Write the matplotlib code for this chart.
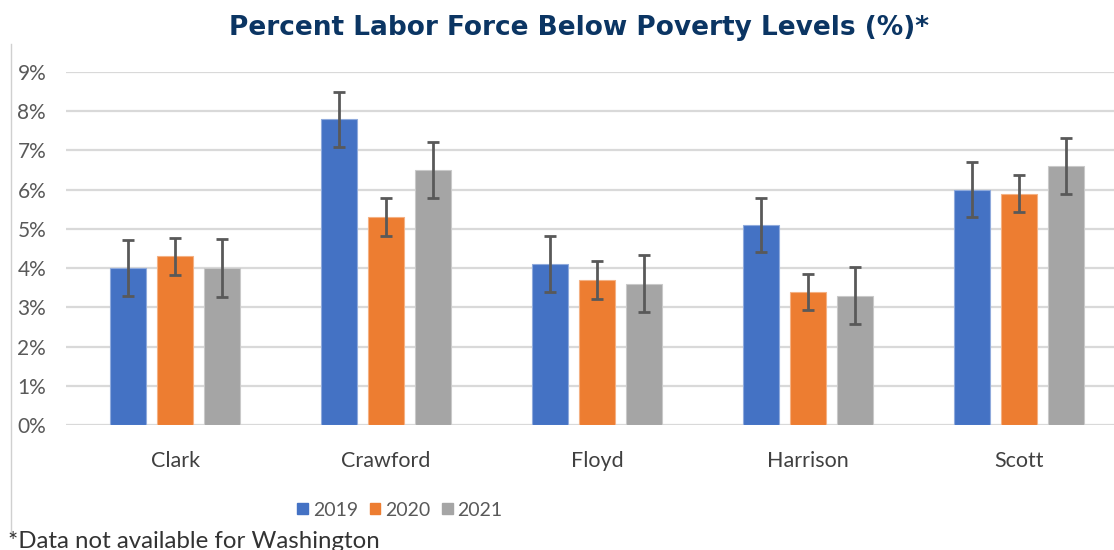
import matplotlib.pyplot as plt
import numpy as np
from matplotlib.lines import Line2D

counties = ['Clark', 'Crawford', 'Floyd', 'Harrison', 'Scott']
years = ['2019', '2020', '2021']

pct_2019 = [4.0, 7.8, 4.1, 5.1, 6.0]
pct_2020 = [4.3, 5.3, 3.7, 3.4, 5.9]
pct_2021 = [4.0, 6.5, 3.6, 3.3, 6.6]

err_2019 = [0.71, 0.70, 0.71, 0.70, 0.70]
err_2020 = [0.48, 0.48, 0.48, 0.46, 0.48]
err_2021 = [0.73, 0.72, 0.73, 0.73, 0.72]

colors = ['#4472C4', '#ED7D31', '#A5A5A5']
edges = ['#8FAADC', '#F4B183', '#C9C9C9']

plt.rcParams['font.family'] = ['Lato', 'DejaVu Sans']

fig = plt.figure(figsize=(11.14, 5.5), dpi=100)
ax = fig.add_axes([66 / 1114, 1 - 425 / 550, 1 - 66 / 1114, (425 - 72) / 550])

x = np.arange(len(counties))
step = 0.223
width = 0.172
series = [(pct_2019, err_2019), (pct_2020, err_2020), (pct_2021, err_2021)]
for i, (vals, errs) in enumerate(series):
	pos = x + (i - 1) * step
	ax.bar(pos, vals, width, color=colors[i], edgecolor=edges[i], linewidth=0.8,
		label=years[i], zorder=2)
	ax.errorbar(pos, vals, yerr=errs, fmt='none', ecolor='#595959',
		elinewidth=2, capsize=4.5, capthick=2, zorder=3)

ax.set_xlim(-0.517, 4.45)
ax.set_ylim(0, 9)
ax.set_yticks(range(0, 10))
ax.set_yticklabels([f'{v}%' for v in range(0, 10)])
ax.yaxis.grid(True, color='#D9D9D9', linewidth=1.6, zorder=0)
ax.set_axisbelow(True)
for s in ax.spines.values():
	s.set_visible(False)
ax.tick_params(axis='y', length=0, pad=35, labelsize=15, labelcolor='#595959')
ax.tick_params(axis='x', length=0, pad=19, labelsize=15.5, labelcolor='#404040')
ax.set_xticks(x)
ax.set_xticklabels(counties)
for lbl in ax.get_yticklabels():
	lbl.set_horizontalalignment('left')

fig.text(579 / 1114, 1 - 28 / 550, 'Percent Labor Force Below Poverty Levels (%)*',
	ha='center', va='center', fontsize=19, fontweight='bold', color='#0B3563',
	family='DejaVu Sans')

handles = [plt.Rectangle((0, 0), 1, 1, color=c) for c in colors]
fig.legend(handles, years, loc='center', bbox_to_anchor=(400 / 1114, 1 - 510 / 550),
	ncol=3, frameon=False, fontsize=14, handlelength=0.55, handleheight=0.55,
	handletextpad=0.25, columnspacing=0.6, labelcolor='#595959')

fig.text(8 / 1114, 1 - 541 / 550, '*Data not available for Washington',
	ha='left', va='center', fontsize=17.3, color='#333333')

fig.add_artist(Line2D([11 / 1114, 11 / 1114], [1 - 44 / 550, 1 - 535 / 550],
	transform=fig.transFigure, color='#D0D0D0', linewidth=1))

fig.savefig('out.png', dpi=100)
